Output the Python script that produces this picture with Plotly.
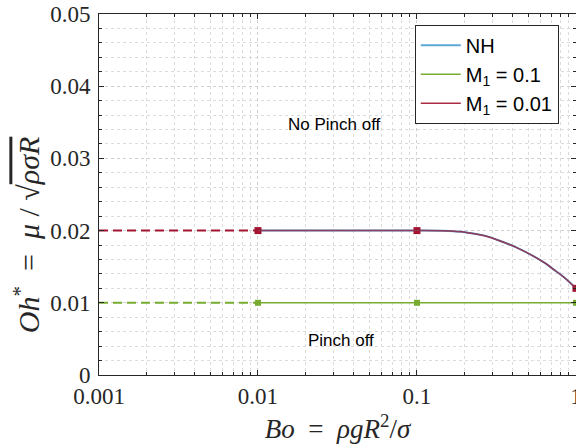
import plotly.graph_objects as go

# ---- data ----
bo_dash = [0.001, 0.01]
oh_dash_m01 = [0.01, 0.01]
oh_dash_m001 = [0.02, 0.02]

bo_m01 = [0.01, 0.1, 1.0]
oh_m01 = [0.01, 0.01, 0.01]

bo_curve = [0.01, 0.1, 0.145, 0.2045, 0.266, 0.331, 0.424, 0.536, 0.640, 0.718, 0.807, 0.88, 1.0]
oh_curve = [0.02, 0.02, 0.01997, 0.01975, 0.0193, 0.0186, 0.01765, 0.01651, 0.0155,
            0.01467, 0.01385, 0.01315, 0.0120]

bo_markers = [0.01, 0.1, 1.0]
oh_markers_m001 = [0.02, 0.02, 0.0120]

xtick_vals = [0.001, 0.01, 0.1, 1]
xtick_text = ["0.001", "0.01", "0.1", "1"]
ytick_vals = [0, 0.01, 0.02, 0.03, 0.04, 0.05]
ytick_text = ["0", "0.01", "0.02", "0.03", "0.04", "0.05"]

BLUE = "#5AA9D9"
GREEN = "#77AC30"
RED = "#A2142F"

fig = go.Figure()

# dashed extensions
fig.add_trace(go.Scatter(x=bo_dash, y=oh_dash_m01, mode="lines",
                         line=dict(color=GREEN, width=2, dash="9px,5px"), showlegend=False))
fig.add_trace(go.Scatter(x=bo_dash, y=oh_dash_m001, mode="lines",
                         line=dict(color=RED, width=2, dash="9px,5px"), showlegend=False))

# NH (under)
fig.add_trace(go.Scatter(x=bo_curve, y=oh_curve, mode="lines", name="NH",
                         line=dict(color=BLUE, width=2, shape="spline", smoothing=0.8)))
# M1 = 0.1
fig.add_trace(go.Scatter(x=bo_m01, y=oh_m01, mode="lines", name="M<sub>1</sub> = 0.1",
                         line=dict(color=GREEN, width=1.5)))
fig.add_trace(go.Scatter(x=bo_m01, y=oh_m01, mode="markers", showlegend=False,
                         marker=dict(symbol="square", size=6, color=GREEN)))
# M1 = 0.01
fig.add_trace(go.Scatter(x=bo_curve, y=oh_curve, mode="lines", name="M<sub>1</sub> = 0.01",
                         line=dict(color=RED, width=1.5, shape="spline", smoothing=0.8),
                         opacity=0.9))
fig.add_trace(go.Scatter(x=bo_markers, y=oh_markers_m001, mode="markers", showlegend=False,
                         marker=dict(symbol="square", size=7, color=RED)))
# NH thin overlay
fig.add_trace(go.Scatter(x=bo_curve, y=oh_curve, mode="lines", showlegend=False,
                         line=dict(color=BLUE, width=0.7, shape="spline", smoothing=0.8),
                         opacity=0.35))

minor_x = [k * 10 ** d for d in (-3, -2, -1) for k in range(2, 10)]

axis_common = dict(
    showline=True, linecolor="#262626", linewidth=1, mirror="ticks",
    ticks="inside", ticklen=5, tickcolor="#262626",
    showgrid=True, gridcolor="#d0d0d0", griddash="dot", gridwidth=1,
    zeroline=False, ticklabeloverflow="allow", automargin=False,
    tickfont=dict(family="Liberation Serif", size=23, color="#262626"),
)

fig.update_xaxes(type="log", range=[-3, 0.0002], tickvals=xtick_vals, ticktext=xtick_text,
                 minor=dict(tickvals=minor_x, ticks="inside", ticklen=3, tickcolor="#262626",
                            showgrid=True, gridcolor="#dcdcdc", griddash="dot"),
                 title=dict(text="<i>Bo</i>  =  <i>ρgR</i><sup>2</sup>/<i>σ</i>",
                            font=dict(family="Liberation Serif", size=27, color="#262626"),
                            standoff=12),
                 **axis_common)
fig.update_yaxes(range=[0, 0.05], tickvals=ytick_vals, ticktext=ytick_text,
                 ticklabelstandoff=3,
                 minor=dict(dtick=0.002, ticks="inside", ticklen=3, tickcolor="#262626",
                            showgrid=True, gridcolor="#dcdcdc", griddash="dot"),
                 **axis_common)

# y-axis title as a rotated annotation (positioned like the reference)
fig.add_annotation(
    x=-0.151, y=0.39, xref="paper", yref="paper", textangle=-90, showarrow=False,
    xanchor="center", yanchor="middle",
    text="<i>Oh</i><sup>*</sup>  =  <i>μ</i> / √<span style='text-decoration:overline'><i>ρσR</i></span>",
    font=dict(family="Liberation Serif", size=30, color="#262626"),
)

fig.add_annotation(x=-1.516, y=0.0347, xref="x", yref="y", text="No Pinch off", showarrow=False,
                   font=dict(family="Liberation Sans", size=17, color="#000000"))
fig.add_annotation(x=-1.478, y=0.0048, xref="x", yref="y", text="Pinch off", showarrow=False,
                   font=dict(family="Liberation Sans", size=17, color="#000000"))

fig.update_layout(
    width=576, height=444,
    margin=dict(l=99, r=0, t=14, b=69),
    paper_bgcolor="white", plot_bgcolor="white",
    showlegend=True,
    legend=dict(x=0.662, y=0.97, xanchor="left", yanchor="top",
                bgcolor="white", bordercolor="#262626", borderwidth=1,
                font=dict(family="Liberation Sans", size=20, color="#000000"),
                tracegroupgap=0, itemwidth=40),
)

fig.write_html("out.html")
